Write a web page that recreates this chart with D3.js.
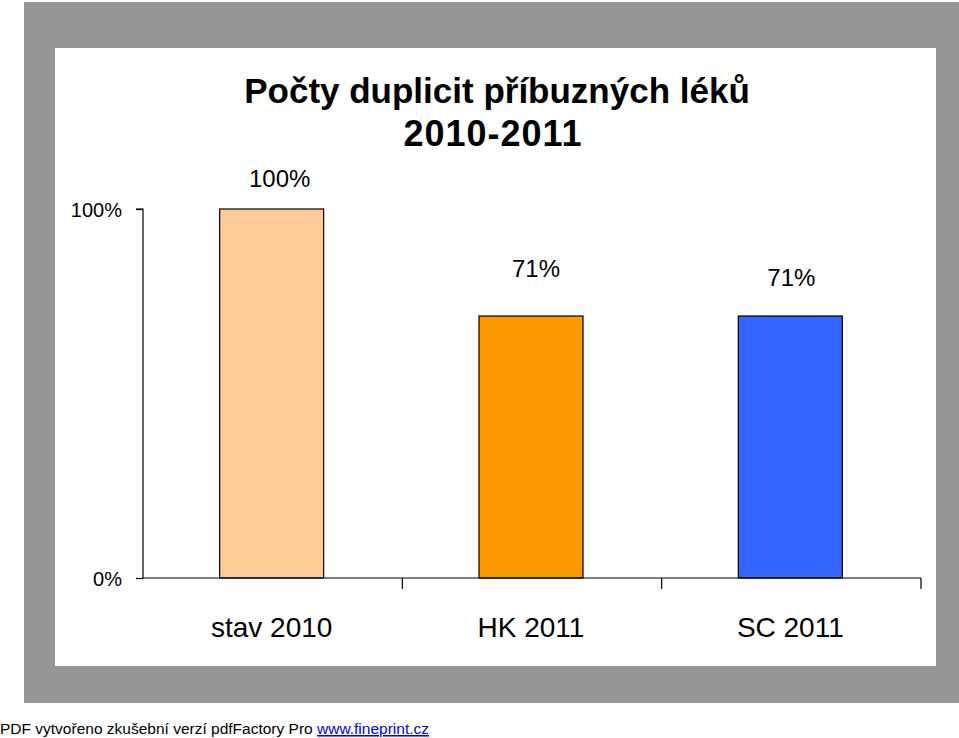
<!DOCTYPE html>
<html><head><meta charset="utf-8">
<script src="https://cdn.jsdelivr.net/npm/d3@7"></script>
<style>
html,body{margin:0;padding:0;background:#fff;}
svg{display:block;font-family:"Liberation Sans",Arial,sans-serif;}
</style></head>
<body>
<script>
const categories = ["stav 2010", "HK 2011", "SC 2011"];
const values = [1.00, 0.71, 0.71];
const valueLabels = ["100%", "71%", "71%"];
const colors = ["#FFCC99", "#FF9900", "#3366FF"];
const yTicks = [0, 1];
const yTickLabels = ["0%", "100%"];
const titleLines = ["Počty duplicit příbuzných léků", "2010-2011"];

const W = 959, H = 738;
const svg = d3.select("body").append("svg").attr("width", W).attr("height", H);

// frame
svg.append("rect").attr("x", 24).attr("y", 2).attr("width", 935).attr("height", 701).attr("fill", "#969696");
svg.append("rect").attr("x", 55).attr("y", 48).attr("width", 881).attr("height", 618).attr("fill", "#fff");

const x = d3.scaleBand().domain(categories).range([143, 921]).paddingInner(0).paddingOuter(0);
const y = d3.scaleLinear().domain([0, 1]).range([578, 209]);
const barW = 104;

// bars
svg.selectAll("rect.bar").data(values).enter().append("rect")
  .attr("class", "bar")
  .attr("x", (d, i) => x(categories[i]) + x.bandwidth() / 2 - barW / 2 - 1)
  .attr("y", d => y(d))
  .attr("width", barW)
  .attr("height", d => y(0) - y(d))
  .attr("fill", (d, i) => colors[i])
  .attr("stroke", "#000").attr("stroke-width", 1.2);

// y axis
const yAxis = d3.axisLeft(y).tickValues(yTicks).tickFormat((d, i) => yTickLabels[i]).tickSize(7).tickPadding(14);
const gy = svg.append("g").attr("transform", "translate(143,0)").call(yAxis);
gy.select(".domain").attr("d", "M-7," + y(1) + "H0V" + y(0)).attr("stroke", "#000").attr("stroke-width", 1.2);
gy.selectAll(".tick line").attr("stroke", "#000").attr("stroke-width", 1.2);
gy.selectAll(".tick text").attr("font-size", 20).attr("fill", "#000").attr("font-family", "Liberation Sans, Arial, sans-serif").attr("dy", "0.36em");

// x axis
const gx = svg.append("g").attr("transform", "translate(0,578)");
gx.append("line").attr("x1", 143).attr("x2", 921).attr("y1", 0).attr("y2", 0).attr("stroke", "#000").attr("stroke-width", 1.2);
gx.selectAll("line.tk").data(categories).enter().append("line").attr("class", "tk")
  .attr("x1", d => x(d) + x.bandwidth()).attr("x2", d => x(d) + x.bandwidth())
  .attr("y1", 0).attr("y2", 11).attr("stroke", "#000").attr("stroke-width", 1.2);
gx.selectAll("text").data(categories).enter().append("text")
  .attr("x", d => x(d) + x.bandwidth() / 2 - 1).attr("y", 59)
  .attr("text-anchor", "middle").attr("font-size", 28).attr("fill", "#000").text(d => d);

// value labels
const labelDx = [7, 4, 0];
const labelDy = [-22, -39, -30];
svg.selectAll("text.val").data(values).enter().append("text").attr("class", "val")
  .attr("x", (d, i) => x(categories[i]) + x.bandwidth() / 2 + labelDx[i])
  .attr("y", (d, i) => y(d) + labelDy[i])
  .attr("text-anchor", "middle").attr("font-size", 24).attr("fill", "#000")
  .text((d, i) => valueLabels[i]);

// title
svg.selectAll("text.title").data(titleLines).enter().append("text").attr("class", "title")
  .attr("x", (d, i) => i === 0 ? 497 : 493).attr("y", (d, i) => 103 + i * 43)
  .attr("text-anchor", "middle").attr("font-size", (d, i) => i === 0 ? 35 : 36)
  .attr("letter-spacing", (d, i) => i === 0 ? 0 : 1)
  .attr("font-weight", "bold").attr("fill", "#000")
  .text(d => d);

// footer
const ft = svg.append("text").attr("x", 0).attr("y", 734).attr("font-size", 15.5).attr("fill", "#000");
ft.append("tspan").text("PDF vytvořeno zkušební verzí pdfFactory Pro ");
ft.append("tspan").attr("fill", "#0000FF").attr("text-decoration", "underline").text("www.fineprint.cz");
</script>
</body></html>
